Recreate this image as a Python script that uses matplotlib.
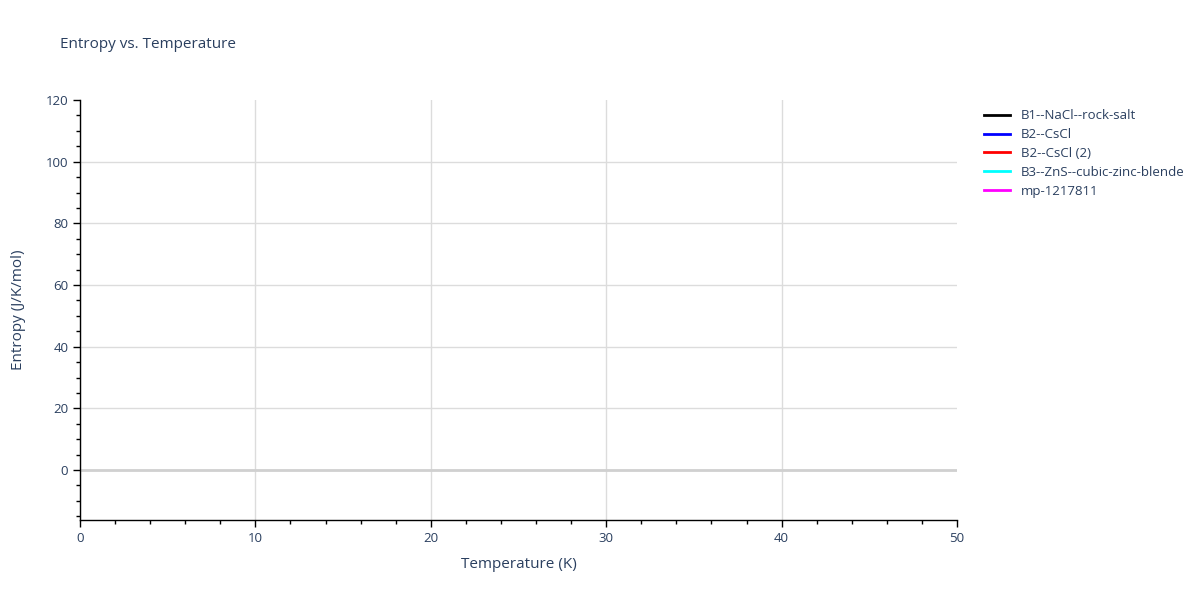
import matplotlib
matplotlib.use("Agg")
import matplotlib.pyplot as plt
from matplotlib.ticker import MultipleLocator

# series names and colours; the reference shows no visible data points
names = ["B1--NaCl--rock-salt", "B2--CsCl", "B2--CsCl (2)",
         "B3--ZnS--cubic-zinc-blende", "mp-1217811"]
colors = ["black", "blue", "red", "cyan", "magenta"]
temps = [[], [], [], [], []]
entropy = [[], [], [], [], []]

txt = "#2a3f5f"
plt.rcParams["font.family"] = ["Open Sans", "DejaVu Sans"]

fig = plt.figure(figsize=(12, 6), dpi=100)
ax = fig.add_axes([80 / 1200, 80 / 600, 877 / 1200, 420 / 600])

for t, s, name, c in zip(temps, entropy, names, colors):
    ax.plot(t, s, color=c, lw=2, label=name)

ax.set_xlim(0, 50)
ax.set_ylim(-16.2, 120)
ax.xaxis.set_major_locator(MultipleLocator(10))
ax.xaxis.set_minor_locator(MultipleLocator(2))
ax.yaxis.set_major_locator(MultipleLocator(20))
ax.yaxis.set_minor_locator(MultipleLocator(5))

ax.grid(True, which="major", color="#dcdcdc", lw=1)
ax.axhline(0, color="#d0d0d0", lw=2, zorder=1)
ax.set_axisbelow(True)

for side in ["top", "right"]:
    ax.spines[side].set_visible(False)
for side in ["left", "bottom"]:
    ax.spines[side].set_color("black")
    ax.spines[side].set_linewidth(1)

ax.tick_params(which="major", length=5, width=1, colors="black", labelcolor=txt, labelsize=9.5)
ax.tick_params(which="minor", length=3, width=1, colors="black")

ax.set_xlabel("Temperature (K)", color=txt, fontsize=11, labelpad=9)
ax.set_ylabel("Entropy (J/K/mol)", color=txt, fontsize=11, labelpad=14)
fig.text(60 / 1200, 1 - 45 / 600, "Entropy vs. Temperature", color=txt,
         fontsize=11, va="center", ha="left")

leg = ax.legend(loc="upper left", bbox_to_anchor=(1.02, 1.0), frameon=False,
                fontsize=9.5, handlelength=2.0, labelspacing=0.45,
                borderaxespad=0.3)
for t in leg.get_texts():
    t.set_color(txt)

# no gridline on the plot edges (x=50, y=120)
fig.canvas.draw()
for tk in ax.xaxis.get_major_ticks():
    if tk.get_loc() >= 50:
        tk.gridline.set_visible(False)
for tk in ax.yaxis.get_major_ticks():
    if tk.get_loc() >= 120:
        tk.gridline.set_visible(False)

fig.savefig("out.png", dpi=100)
